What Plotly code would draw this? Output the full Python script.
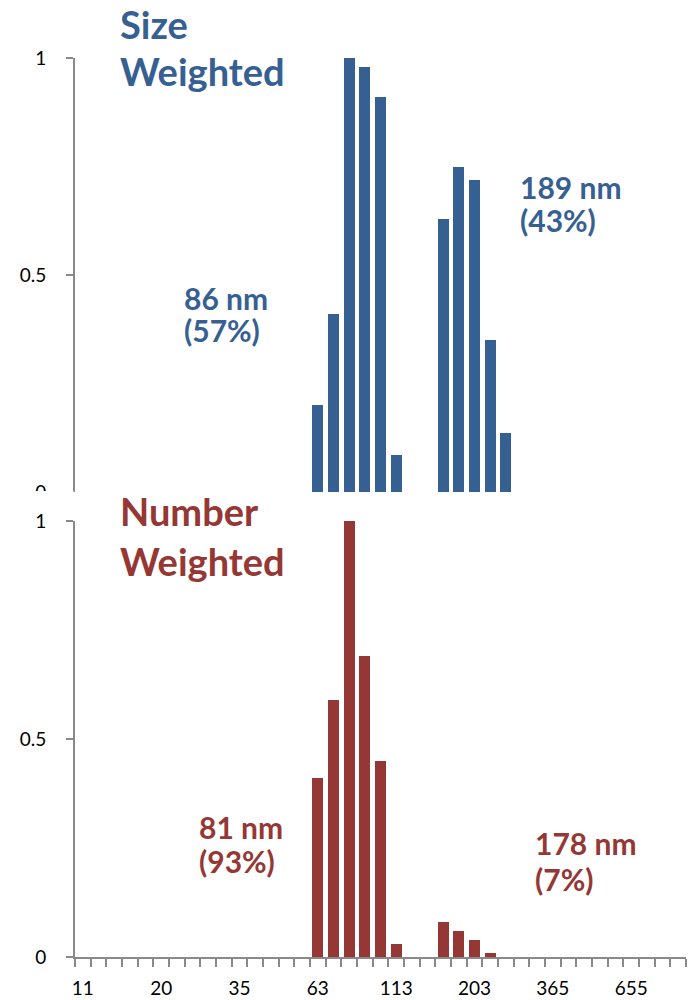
import plotly.graph_objects as go

# Particle-size bins (log spaced); only every fifth bin carries a label
bin_labels = ["11", "20", "35", "63", "113", "203", "365", "655"]
n_bins = 39

# Normalised intensity per bin
size_weighted = [0, 0, 0, 0, 0, 0, 0, 0, 0, 0, 0, 0, 0, 0, 0,
                 0.20, 0.41, 1.00, 0.98, 0.91, 0.085, 0, 0, 0.63, 0.75,
                 0.72, 0.35, 0.135, 0, 0, 0, 0, 0, 0, 0, 0, 0, 0, 0]
number_weighted = [0, 0, 0, 0, 0, 0, 0, 0, 0, 0, 0, 0, 0, 0, 0,
                   0.41, 0.59, 1.00, 0.69, 0.45, 0.03, 0, 0, 0.08, 0.06,
                   0.04, 0.01, 0, 0, 0, 0, 0, 0, 0, 0, 0, 0, 0, 0]

BLUE = "#376092"
RED = "#953735"
AXIS = "#898989"
W, H = 693, 1000

bins = list(range(n_bins))
label_pos = [i * 5 for i in range(len(bin_labels))]

fig = go.Figure()
fig.add_trace(go.Bar(x=bins, y=size_weighted, width=0.7, marker_color=BLUE,
                     marker_line_width=0, xaxis="x", yaxis="y", showlegend=False))
fig.add_trace(go.Bar(x=bins, y=number_weighted, width=0.7, marker_color=RED,
                     marker_line_width=0, xaxis="x2", yaxis="y2", showlegend=False))

xdom = [75 / W, 686 / W]
tick_font = dict(family="Lato", size=19, color="#000000")

yaxis_common = dict(
    range=[0, 1], tickmode="array", tickvals=[0, 0.5, 1], ticktext=["0", "0.5", "1"],
    showline=True, linecolor=AXIS, linewidth=2, ticks="outside", ticklen=7,
    tickwidth=2, tickcolor=AXIS, showgrid=False, zeroline=False,
    tickfont=tick_font, ticklabelstandoff=16, fixedrange=True, automargin=False,
)

fig.update_layout(
    width=W, height=H, margin=dict(l=0, r=0, t=0, b=0, pad=0, autoexpand=False),
    paper_bgcolor="white", plot_bgcolor="white", bargap=0,
    xaxis=dict(domain=xdom, range=[-0.5, n_bins - 0.5], anchor="y",
               visible=False, fixedrange=True, automargin=False),
    yaxis=dict(domain=[1 - 492 / H, 1 - 58 / H], anchor="x", **yaxis_common),
    xaxis2=dict(domain=xdom, range=[-0.5, n_bins - 0.5], anchor="y2",
                tickmode="array", tickvals=label_pos, ticktext=bin_labels,
                ticks="", showline=True, linecolor=AXIS, linewidth=2,
                showgrid=False, zeroline=False, tickfont=tick_font,
                ticklabelstandoff=13, fixedrange=True, automargin=False,
                minor=dict(tickmode="linear", tick0=-0.5, dtick=1, ticks="outside",
                           ticklen=8, tickwidth=2, tickcolor=AXIS, showgrid=False)),
    yaxis2=dict(domain=[1 - 957 / H, 1 - 521 / H], anchor="x2", **yaxis_common),
)

# The lower panel's background overlaps the foot of the upper panel
fig.add_shape(type="rect", xref="paper", yref="paper", layer="above",
              x0=0, x1=73.5 / W, y0=1 - 508 / H, y1=1 - 491 / H,
              fillcolor="white", line_width=0)


def note(text, left, mid_y, size, color):
    fig.add_annotation(text=text, xref="paper", yref="paper",
                       x=left / W, y=1 - mid_y / H, xanchor="left", yanchor="middle",
                       showarrow=False,
                       font=dict(family="Lato", size=size, color=color, weight="bold"))


# Panel titles
note("Size", 118, 24, 38, BLUE)
note("Weighted", 118, 71, 38, BLUE)
note("Number", 118, 511, 38, RED)
note("Weighted", 118, 561, 38, RED)

# Peak labels
note("86 nm", 182, 298, 30, BLUE)
note("(57%)", 182, 330, 30, BLUE)
note("189 nm", 518, 187, 30, BLUE)
note("(43%)", 518, 220, 30, BLUE)
note("81 nm", 197, 827, 30, RED)
note("(93%)", 197, 861, 30, RED)
note("178 nm", 533, 843, 30, RED)
note("(7%)", 533, 879, 30, RED)

fig.write_html("out.html")
